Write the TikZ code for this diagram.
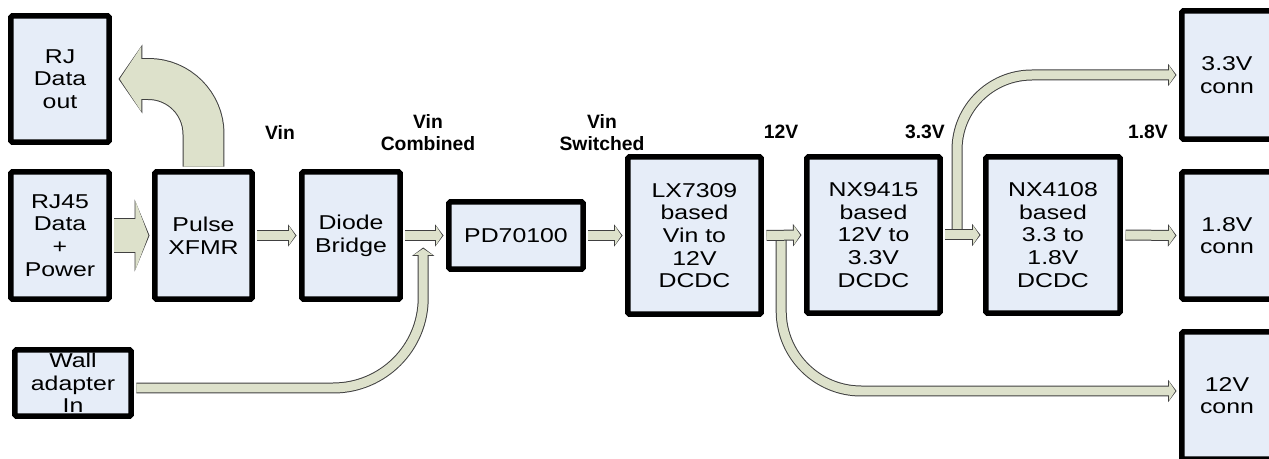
\documentclass[tikz,border=0pt]{standalone}
\usepackage{fontspec}
\setmainfont{Liberation Sans}
\newfontfamily\boxfont{Liberation Sans}[FakeStretch=1.24]
\usepackage{xcolor}
\usetikzlibrary{arrows.meta, calc}

\definecolor{boxfill}{RGB}{230,237,248}
\definecolor{flowfill}{RGB}{221,225,203}
\definecolor{flowedge}{RGB}{64,64,64}

\begin{document}
\begin{tikzpicture}[
    x=0.02cm, y=-0.02cm,
    blk/.style={rectangle, draw, line width=0.11cm, fill=boxfill, rounded corners=1pt,
        inner sep=0pt, align=center, font=\boxfont\fontsize{11.4}{12.9}\selectfont},
    sz/.style 2 args={minimum width=#1, minimum height=#2},
    lbl/.style={font=\bfseries\fontsize{11}{12.5}\selectfont, align=center},
    flowthin/.style={draw=flowfill, line width=0.18cm, shorten <=0.05cm, shorten >=0.075cm,
        -{Triangle[length=0.125cm, width=0.37cm]},
        preaction={draw=flowedge, line width=0.22cm, shorten <=0.05cm, shorten >=0.05cm,
            -{Triangle[length=0.17cm, width=0.44cm]}}},
    flowwide/.style={draw=flowfill, line width=0.66cm, shorten <=0.05cm, shorten >=0.072cm,
        -{Triangle[length=0.26cm, width=1.37cm]},
        preaction={draw=flowedge, line width=0.70cm, shorten <=0.05cm, shorten >=0.05cm,
            -{Triangle[length=0.30cm, width=1.44cm]}}},
    flowbend/.style={draw=flowfill, line width=0.80cm, rounded corners=1.1cm, shorten <=0.05cm, shorten >=0.075cm,
        -{Triangle[length=0.435cm, width=1.29cm]},
        preaction={draw=flowedge, line width=0.84cm, rounded corners=1.1cm, shorten <=0.05cm, shorten >=0.05cm,
            -{Triangle[length=0.48cm, width=1.36cm]}}}
]
\path[use as bounding box, clip] (0,0) rectangle (1269,459);

% Input side
\node[blk, sz={1.97cm}{2.53cm}] (dataout) at (60,79) {RJ\\Data\\out};
\node[blk, sz={1.97cm}{2.55cm}] (rjin) at (60,235.5) {RJ45\\Data\\+\\Power};
\node[blk, sz={1.95cm}{2.55cm}] (pulse) at (203.5,235.5) {Pulse\\XFMR};
\node[blk, sz={1.97cm}{2.55cm}] (diode) at (351,235.5) {Diode\\Bridge};
\node[blk, sz={2.33cm}{1.33cm}] (wall) at (73,383) {Wall\\adapter\\In};

% Power chain
\node[blk, sz={2.69cm}{1.35cm}] (pd) at (516,235.5) {PD70100};
\node[blk, sz={2.67cm}{3.15cm}] (lx) at (694.5,235.5) {LX7309\\based\\Vin to\\12V\\DCDC};
\node[blk, sz={2.67cm}{3.13cm}] (nxa) at (873.5,235) {NX9415\\based\\12V to\\3.3V\\DCDC};
\node[blk, sz={2.69cm}{3.13cm}] (nxb) at (1053,235) {NX4108\\based\\3.3 to\\1.8V\\DCDC};

% Connectors (right)
\node[blk, sz={1.81cm}{2.57cm}] (conn33) at (1227,75) {3.3V\\conn};
\node[blk, sz={1.81cm}{2.55cm}] (conn18) at (1227,235.5) {1.8V\\conn};
\node[blk, sz={1.81cm}{2.55cm}] (conn12) at (1227,395.5) {12V\\conn};

% Rail labels
\node[lbl] at (280,133) {Vin};
\node[lbl] at (428,133) {Vin\\Combined};
\node[lbl] at (602,133) {Vin\\Switched};
\node[lbl] at (781,132) {12V};
\node[lbl] at (925,132) {3.3V};
\node[lbl] at (1148,132) {1.8V};

% Tap points
\coordinate (vinjoin) at ($(diode.east)!0.47!(pd.west)$);
\coordinate (tap12) at ($(lx.east)!0.43!(nxa.west)$);
\coordinate (tap33) at ($(nxa.east)!0.35!(nxb.west)$);

% Branches
\draw[flowthin, rounded corners=1.8cm] ($(wall.east)+(0,5)$) -| ($(vinjoin)+(0,9.5)$);
\draw[flowthin, rounded corners=1.6cm] (tap12) |- ($(conn12.west)+(0,-4.5)$);
\draw[flowthin, rounded corners=1.5cm] (tap33) |- (conn33.west);

% Main flow
\draw[flowwide] (rjin.east) -- (pulse.west);
\draw[flowbend] (pulse.north) |- ($(dataout.east)+(4,0)$);
\draw[flowthin] (pulse.east) -- (diode.west);
\draw[flowthin] (diode.east) -- (pd.west);
\draw[flowthin] (pd.east) -- (lx.west);
\draw[flowthin] (lx.east) -- (nxa.west);
\draw[flowthin] (nxa.east) -- (nxb.west);
\draw[flowthin] (nxb.east) -- (conn18.west);

\end{tikzpicture}
\end{document}
